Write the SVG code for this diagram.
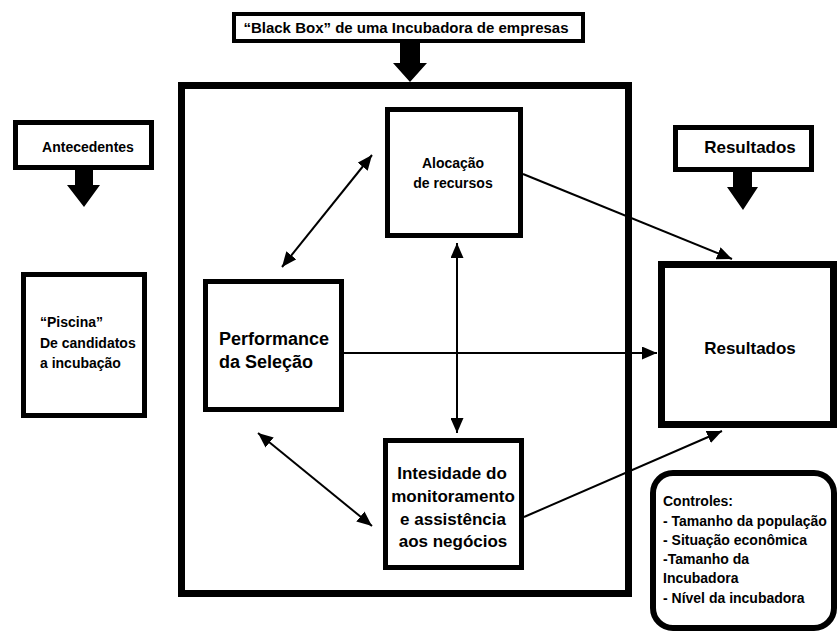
<svg xmlns="http://www.w3.org/2000/svg" width="839" height="632" viewBox="0 0 839 632">
<style>
.box{fill:#fff;stroke:#000}
.t{font-family:"Liberation Sans",Arial,sans-serif;font-weight:bold;fill:#000}
.c{text-anchor:middle}
.con{stroke:#000;stroke-width:2;fill:none}
.fat{fill:#000}
</style>
<defs>
<marker id="ah" markerUnits="userSpaceOnUse" markerWidth="15" markerHeight="13" refX="15" refY="6.5" orient="auto-start-reverse" viewBox="0 0 15 13">
<path d="M0,0 L15,6.5 L0,13 z" fill="#000"/>
</marker>
</defs>
<rect width="839" height="632" fill="#fff"/>

<g id="blackbox">
<rect class="box" x="181.5" y="85.5" width="447" height="508" stroke-width="7"/>
</g>

<g id="blackbox-label">
<rect class="box" x="234" y="14" width="349" height="27" stroke-width="4"/>
<text class="t c" x="406" y="33" font-size="15">“Black Box” de uma Incubadora de empresas</text>
<polygon class="fat" points="400,41 420,41 420,63 427,63 410,82 393,63 400,63"/>
</g>

<g id="antecedentes">
<rect class="box" x="15.5" y="122.5" width="136" height="45" stroke-width="5"/>
<text class="t c" x="88" y="152" font-size="14">Antecedentes</text>
<polygon class="fat" points="75,168 93,168 93,185 100,185 84,207 67,185 75,185"/>
</g>

<g id="piscina">
<rect class="box" x="23.5" y="274.5" width="121" height="141" stroke-width="5"/>
<text class="t" x="40" y="327" font-size="14">“Piscina”</text>
<text class="t" x="40" y="348" font-size="14">De candidatos</text>
<text class="t" x="40" y="368" font-size="14">a incubação</text>
</g>

<g id="alocacao">
<rect class="box" x="387.5" y="109.5" width="133" height="126" stroke-width="5"/>
<text class="t c" x="453" y="168" font-size="14">Alocação</text>
<text class="t c" x="453" y="188" font-size="14">de recursos</text>
</g>

<g id="performance">
<rect class="box" x="205.5" y="281.5" width="136" height="128" stroke-width="5"/>
<text class="t" x="219" y="345" font-size="18">Performance</text>
<text class="t" x="219" y="368" font-size="18">da Seleção</text>
</g>

<g id="intensidade">
<rect class="box" x="385.5" y="440.5" width="136" height="127" stroke-width="5"/>
<text class="t c" x="452" y="479" font-size="17">Intesidade do</text>
<text class="t c" x="453" y="502" font-size="17">monitoramento</text>
<text class="t c" x="453" y="525" font-size="17">e assistência</text>
<text class="t c" x="453" y="547" font-size="17">aos negócios</text>
</g>

<g id="resultados-label">
<rect class="box" x="675.5" y="127.5" width="136" height="42" stroke-width="5"/>
<text class="t c" x="750" y="153" font-size="17">Resultados</text>
<polygon class="fat" points="733,170 752,170 752,187 758,187 743,210 727,187 733,187"/>
</g>

<g id="resultados">
<rect class="box" x="661.5" y="264.5" width="172" height="160" stroke-width="7"/>
<text class="t c" x="750" y="354" font-size="17">Resultados</text>
</g>

<g id="controles">
<rect class="box" x="653" y="473" width="181" height="155" rx="20" stroke-width="6"/>
<text class="t" x="663" y="506" font-size="14">Controles:</text>
<text class="t" x="663" y="526" font-size="14">- Tamanho da população</text>
<text class="t" x="663" y="545" font-size="14">- Situação econômica</text>
<text class="t" x="663" y="564" font-size="14">-Tamanho da</text>
<text class="t" x="663" y="583" font-size="14">Incubadora</text>
<text class="t" x="663" y="603" font-size="14">- Nível da incubadora</text>
</g>

<g id="connectors">
<line class="con" x1="282" y1="267" x2="372" y2="155" marker-start="url(#ah)" marker-end="url(#ah)"/>
<line class="con" x1="457" y1="243" x2="457" y2="433" marker-start="url(#ah)" marker-end="url(#ah)"/>
<line class="con" x1="258" y1="433" x2="372" y2="526" marker-start="url(#ah)" marker-end="url(#ah)"/>
<line class="con" x1="344" y1="353" x2="657" y2="353" marker-end="url(#ah)"/>
<line class="con" x1="523" y1="174" x2="732" y2="259" marker-end="url(#ah)"/>
<line class="con" x1="524" y1="517" x2="722" y2="431" marker-end="url(#ah)"/>
</g>
</svg>
